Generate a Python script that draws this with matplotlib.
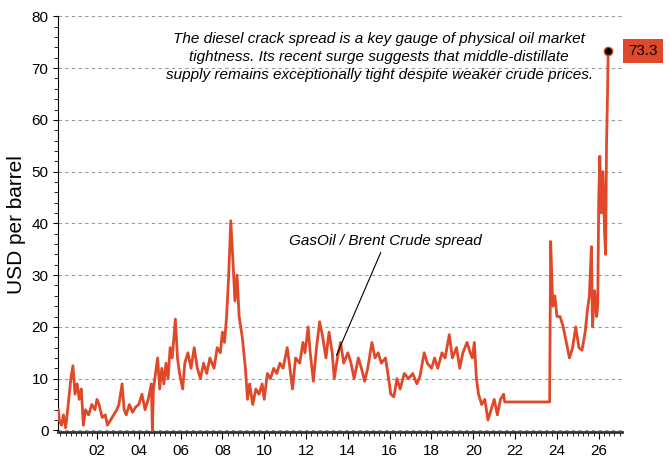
import numpy as np
import matplotlib.pyplot as plt
from matplotlib.ticker import MultipleLocator, FixedLocator

plt.rcParams['font.family'] = ['Liberation Sans', 'DejaVu Sans']

# GasOil / Brent crude spread, USD per barrel
years = [2000.15, 2000.2, 2000.3, 2000.4, 2000.5, 2000.6, 2000.75, 2000.85, 2000.95, 2001.05,
         2001.15, 2001.25, 2001.35, 2001.45, 2001.6, 2001.75, 2001.9, 2002.0, 2002.1, 2002.25,
         2002.4, 2002.5, 2002.65, 2002.8, 2002.95, 2003.05, 2003.2, 2003.3, 2003.4, 2003.55,
         2003.7, 2003.85, 2004.0, 2004.15, 2004.3, 2004.45, 2004.6, 2004.65, 2004.7, 2004.8,
         2004.9, 2005.0, 2005.1, 2005.2, 2005.3, 2005.4, 2005.5, 2005.6, 2005.75, 2005.85,
         2005.95, 2006.1, 2006.2, 2006.35, 2006.5, 2006.65, 2006.8, 2006.95, 2007.1, 2007.25,
         2007.4, 2007.6, 2007.75, 2007.9, 2008.0, 2008.1, 2008.2, 2008.3, 2008.4, 2008.5,
         2008.6, 2008.7, 2008.8, 2008.95, 2009.1, 2009.2, 2009.3, 2009.45, 2009.6, 2009.75,
         2009.9, 2010.0, 2010.15, 2010.3, 2010.45, 2010.6, 2010.75, 2010.9, 2011.1, 2011.2,
         2011.35, 2011.5, 2011.7, 2011.85, 2011.95, 2012.1, 2012.2, 2012.35, 2012.5, 2012.65,
         2012.8, 2012.95, 2013.1, 2013.25, 2013.35, 2013.5, 2013.65, 2013.8, 2014.0, 2014.15,
         2014.3, 2014.5, 2014.65, 2014.8, 2014.95, 2015.15, 2015.3, 2015.45, 2015.6, 2015.8,
         2015.95, 2016.05, 2016.2, 2016.35, 2016.5, 2016.7, 2016.9, 2017.1, 2017.3, 2017.45,
         2017.65, 2017.8, 2018.0, 2018.15, 2018.3, 2018.5, 2018.65, 2018.85, 2019.0, 2019.2,
         2019.35, 2019.5, 2019.7, 2019.85, 2019.95, 2020.05, 2020.15, 2020.25, 2020.4, 2020.55,
         2020.7, 2020.85, 2021.0, 2021.15, 2021.3, 2021.45, 2021.5, 2023.65, 2023.7, 2023.8,
         2023.9, 2024.0, 2024.15, 2024.3, 2024.45, 2024.6, 2024.75, 2024.9, 2025.05, 2025.2,
         2025.35, 2025.45, 2025.55, 2025.65, 2025.7, 2025.8, 2025.9, 2025.95, 2026.0, 2026.05,
         2026.12, 2026.2, 2026.28, 2026.33, 2026.37, 2026.42, 2026.45]
spread = [4, 2, 1, 3, 0.5, 4, 10, 12.5, 7, 9,
          6, 8, 1, 4, 3, 5, 4, 6, 5, 2.5,
          3, 1, 2, 3, 4, 5, 9, 4, 3, 5,
          3.5, 4.5, 5, 7, 4, 6, 9, 0, 8, 11,
          14, 8, 12, 9, 13, 10, 16, 14, 21.5, 14,
          11, 8, 13, 15, 12, 16, 12, 10, 13, 11,
          14, 12, 16, 15, 19, 17, 22, 30, 40.5, 33,
          25, 30, 22, 18, 12, 6, 9, 5, 8, 7,
          9, 6, 11, 10, 12, 11, 13, 12, 16, 13,
          8, 14, 13, 17, 15, 20, 15, 9.5, 16, 21,
          18, 14, 19, 15, 10, 14, 17, 13, 15, 13,
          10, 14, 12, 9.5, 12, 17, 14, 15, 13, 14,
          10, 7, 6.5, 10, 8, 11, 10, 11, 9, 10.5,
          15, 13, 12, 14, 12, 15, 14, 18.5, 14, 16,
          12, 15, 17, 15, 14, 17, 10, 7, 5, 6,
          2, 4, 6, 3, 6, 7, 5.5, 5.5, 36.5, 24,
          26, 22, 22, 20, 17, 14, 16, 20, 16, 15.5,
          19, 23, 26, 35.5, 20, 27, 22, 24, 45, 53,
          42, 50, 38, 34, 55, 65, 73.3]

col = '#E0482A'
fig, ax = plt.subplots(figsize=(6.7, 4.67), dpi=100)
fig.subplots_adjust(left=0.087, right=0.928, top=0.965, bottom=0.075)

ax.plot(years, spread, color=col, lw=2, zorder=3)
ax.plot(years[-1], spread[-1], 'o', color='black', ms=6, mec=col, mew=1, zorder=4)

ax.set_xlim(2000.15, 2027.1)
ax.set_ylim(-0.3, 80)
ax.xaxis.set_major_locator(FixedLocator(np.arange(2002, 2027, 2)))
ax.set_xticklabels([f'{y % 100:02d}' for y in range(2002, 2027, 2)])
ax.xaxis.set_minor_locator(MultipleLocator(0.25))
ax.yaxis.set_major_locator(MultipleLocator(10))
ax.yaxis.set_minor_locator(MultipleLocator(2))
ax.tick_params(labelsize=11, direction='out')
ax.tick_params(axis='x', which='major', length=5)
ax.tick_params(which='minor', length=3)
for s in ['top', 'right']:
    ax.spines[s].set_visible(False)
ax.spines['bottom'].set_linewidth(2)
ax.spines['bottom'].set_color('#333333')
ax.grid(axis='y', ls=(0, (3, 3)), color='#999999', lw=0.8)
ax.set_ylabel('USD per barrel', fontsize=15)

ax.text(2015.5, 72.2, 'The diesel crack spread is a key gauge of physical oil market\n'
        'tightness. Its recent surge suggests that middle-distillate\n'
        'supply remains exceptionally tight despite weaker crude prices.',
        ha='center', va='center', style='italic', fontsize=11, linespacing=1.35,
        zorder=2)
ax.annotate('GasOil / Brent Crude spread', xy=(2013.4, 14), xytext=(2015.8, 36.5),
            ha='center', va='center', style='italic', fontsize=11,
            bbox=dict(fc='white', ec='none', pad=1),
            arrowprops=dict(arrowstyle='-', color='black', lw=0.8))
ax.annotate(f'{spread[-1]:.1f}', xy=(1.012, spread[-1]), xycoords=('axes fraction', 'data'),
            ha='left', va='center', fontsize=11, annotation_clip=False,
            bbox=dict(fc=col, ec='none', boxstyle='square,pad=0.35'))

fig.savefig('out.png')
